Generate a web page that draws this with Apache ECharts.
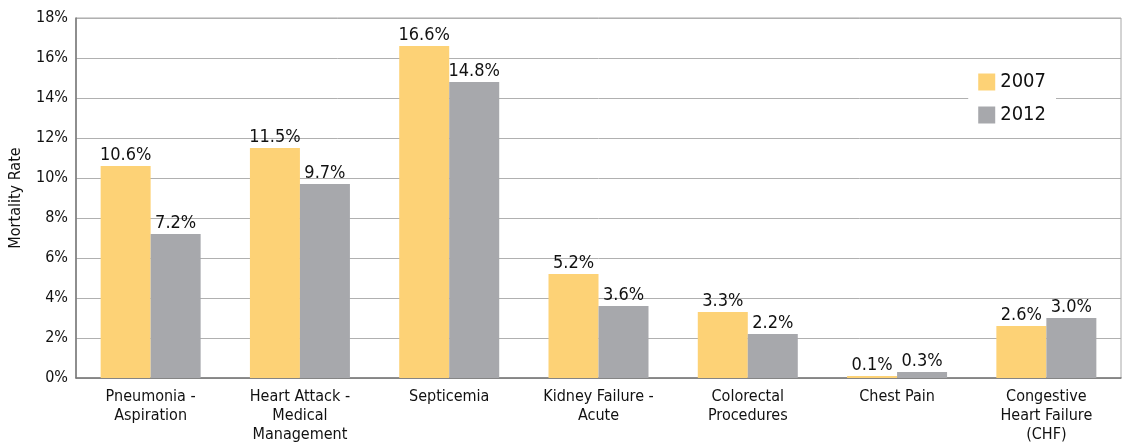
<!DOCTYPE html>
<html>
<head>
    <meta charset="utf-8">
    <title>Mortality Rate 2007 vs 2012</title>
    <script src="https://cdn.jsdelivr.net/npm/echarts@6/dist/echarts.min.js"></script>
    <style>
        body { margin: 0; background: #fff; }
    </style>
</head>
<body>
    <div id="main" style="width:1126px; height:445px;"></div>
    <script type="text/javascript">
    var FONT = '"Liberation Sans Narrow", "DejaVu Sans Condensed", sans-serif';

    // 数据
    var categories = [
        'Pneumonia -\nAspiration',
        'Heart Attack -\nMedical\nManagement',
        'Septicemia',
        'Kidney Failure -\nAcute',
        'Colorectal\nProcedures',
        'Chest Pain',
        'Congestive\nHeart Failure\n(CHF)'
    ];
    var data2007 = [10.6, 11.5, 16.6, 5.2, 3.3, 0.1, 2.6];
    var data2012 = [7.2, 9.7, 14.8, 3.6, 2.2, 0.3, 3.0];

    var myChart = echarts.init(document.getElementById('main'));

    var labelStyle = {
        show: true,
        position: 'top',
        distance: 2,
        color: '#111',
        fontSize: 18,
        fontFamily: FONT,
        formatter: function (p) { return p.value.toFixed(1) + '%'; }
    };

    var option = {
        backgroundColor: '#fff',
        textStyle: { fontFamily: FONT },
        grid: {
            left: 76,
            right: 5,
            top: 18,
            bottom: 67,
            outerBoundsMode: 'none',
            show: true,
            borderColor: '#a8a8a8',
            borderWidth: 1
        },
        legend: {
            orient: 'vertical',
            right: 70,
            top: 68,
            icon: 'rect',
            itemWidth: 17,
            itemHeight: 17,
            itemGap: 13,
            padding: [4, 10, 4, 10],
            backgroundColor: '#fff',
            textStyle: { fontSize: 20, color: '#111', fontFamily: FONT },
            data: ['2007', '2012']
        },
        xAxis: {
            type: 'category',
            data: categories,
            axisTick: { show: false },
            axisLine: { lineStyle: { color: '#777', width: 1.5 } },
            axisLabel: {
                interval: 0,
                color: '#111',
                fontSize: 16,
                lineHeight: 19,
                margin: 9,
                fontFamily: FONT
            }
        },
        yAxis: {
            type: 'value',
            min: 0,
            max: 18,
            interval: 2,
            name: 'Mortality Rate',
            nameLocation: 'middle',
            nameRotate: 90,
            nameGap: 52,
            nameTextStyle: { fontSize: 16, color: '#111', fontFamily: FONT },
            axisLine: { show: true, lineStyle: { color: '#777', width: 1.5 } },
            axisTick: { show: false },
            axisLabel: {
                color: '#111',
                fontSize: 16,
                margin: 8,
                fontFamily: FONT,
                formatter: '{value}%'
            },
            splitLine: { lineStyle: { color: '#b0b0b0', width: 1 } }
        },
        series: [
            {
                name: '2007',
                type: 'bar',
                data: data2007,
                barWidth: 50,
                barGap: '0%',
                itemStyle: { color: '#fdd276' },
                label: labelStyle
            },
            {
                name: '2012',
                type: 'bar',
                data: data2012,
                barWidth: 50,
                barGap: '0%',
                itemStyle: { color: '#a7a8ac' },
                label: labelStyle
            }
        ]
    };

    myChart.setOption(option);
    </script>
</body>
</html>
